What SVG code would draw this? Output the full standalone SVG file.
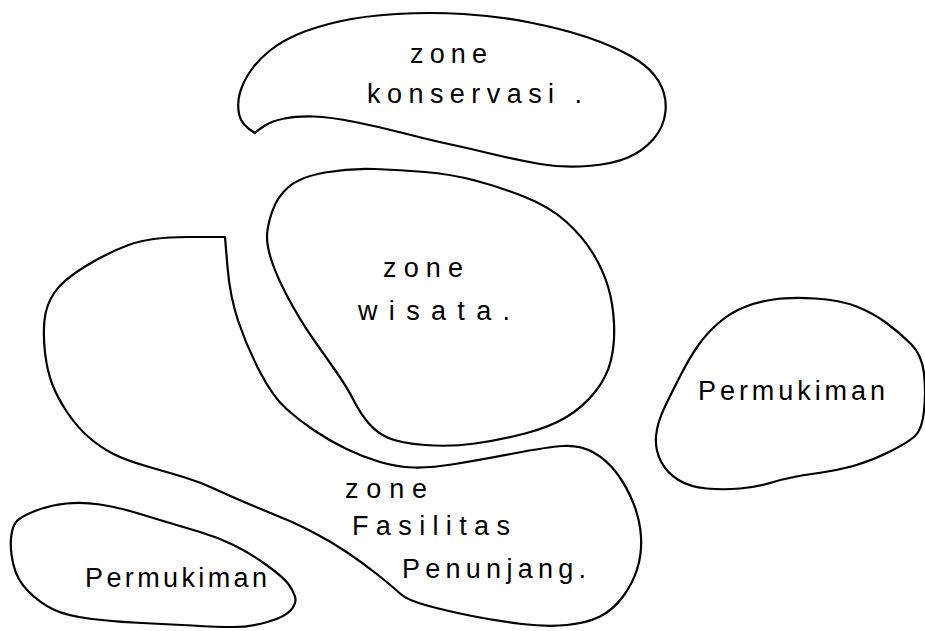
<svg xmlns="http://www.w3.org/2000/svg" width="925" height="631" viewBox="0 0 925 631">
<style>
.zone{fill:none;stroke:#000;stroke-width:2.2;stroke-linejoin:round;stroke-linecap:round}
.lbl{font-family:"Liberation Sans","DejaVu Sans",sans-serif;font-size:27px;fill:#000}
</style>
<rect width="925" height="631" fill="#fff"/>
<g id="connectors"/>
<g id="zone-konservasi">
<path class="zone" d="M255,133 Q241,125 239,114 Q237,103 240,92.5 Q243,82 250.5,71 Q258,60 270,50.5 Q282,41 298.5,34 Q315,27 339,21.5 Q363,16 396.5,14 Q430,12 463.5,14 Q497,16 530,22.5 Q563,29 588,37.5 Q613,46 631.5,56.5 Q650,67 658.5,81 Q667,95 665.5,111 Q664,127 653.5,139 Q643,151 628,157.5 Q613,164 588,166 Q563,168 540,164 Q517,160 490,153.5 Q463,147 446.5,143.5 Q430,140 405,133.5 Q380,127 355,122 Q330,117 313.5,116.5 Q297,116 284.5,118.5 Q272,121 265,125.5 Q258,130 255,133 Z"/>
<text class="lbl" x="410" y="63" textLength="77" lengthAdjust="spacing">zone</text>
<text class="lbl" x="367" y="103" textLength="215" lengthAdjust="spacing">konservasi .</text>
</g>
<g id="zone-wisata">
<path class="zone" d="M267,237 Q267,227 272,212 Q277,197 288.5,187 Q300,177 325,172.5 Q350,168 375,169 Q400,170 425,172 Q450,174 475,180.5 Q500,187 525,197 Q550,207 566.5,222 Q583,237 593,253.5 Q603,270 608,286.5 Q613,303 614,323 Q615,343 611,360 Q607,377 595,392 Q583,407 566.5,417 Q550,427 525,433.5 Q500,440 475,443.5 Q450,447 425,445 Q400,443 388.5,438 Q377,433 368.5,423 Q360,413 353.5,400 Q347,387 335,370 Q323,353 311.5,336.5 Q300,320 288.5,298.5 Q277,277 272,262 Q267,247 267,237 Z"/>
<text class="lbl" x="383" y="277" textLength="80" lengthAdjust="spacing">zone</text>
<text class="lbl" x="358" y="320" textLength="152" lengthAdjust="spacing">wisata.</text>
</g>
<g id="zone-fasilitas-penunjang">
<path class="zone" d="M225,237 L187.5,237 Q150,237 128.5,245 Q107,253 85,266.5 Q63,280 54.5,292.5 Q46,305 44.5,320 Q43,335 45,352.5 Q47,370 52,383.5 Q57,397 67,412 Q77,427 88.5,437 Q100,447 112.5,453.5 Q125,460 147.5,466.5 Q170,473 185,477.5 Q200,482 216,489.5 Q232,497 256,507 Q280,517 288.5,520.5 Q297,524 313.5,532.5 Q330,541 346.5,552 Q363,563 378,575 Q393,587 400,593.5 Q407,600 427,605.5 Q447,611 472,616 Q497,621 522,624 Q547,627 567,625 Q587,623 600,616.5 Q613,610 623,596.5 Q633,583 637.5,568 Q642,553 641,536.5 Q640,520 633.5,503.5 Q627,487 617,473.5 Q607,460 593.5,452.5 Q580,445 563.5,446 Q547,447 513.5,453.5 Q480,460 455,464 Q430,468 413.5,467.5 Q397,467 380,462 Q363,457 346.5,449 Q330,441 315,431 Q300,421 286.5,409 Q273,397 260,372 Q247,347 238.5,322 Q230,297 227.5,267 L225,237 Z"/>
<text class="lbl" x="345" y="498" textLength="82" lengthAdjust="spacing">zone</text>
<text class="lbl" x="352" y="535" textLength="158" lengthAdjust="spacing">Fasilitas</text>
<text class="lbl" x="402" y="578" textLength="184" lengthAdjust="spacing">Penunjang.</text>
</g>
<g id="permukiman-kanan">
<path class="zone" d="M773.5,299.5 Q790,297 815,298.5 Q840,300 856.5,306.5 Q873,313 886.5,323 Q900,333 911,344 Q922,355 924,373.5 Q926,392 924,411 Q922,430 914.5,436.5 Q907,443 890,451.5 Q873,460 856.5,465 Q840,470 815,473.5 Q790,477 773.5,482 Q757,487 740,488.5 Q723,490 706.5,488.5 Q690,487 678.5,480 Q667,473 661,461.5 Q655,450 656,436.5 Q657,423 665,406.5 Q673,390 681.5,373.5 Q690,357 698.5,345 Q707,333 718.5,323 Q730,313 743.5,307.5 Q757,302 773.5,299.5 Z"/>
<text class="lbl" x="698" y="400" textLength="187" lengthAdjust="spacing">Permukiman</text>
</g>
<g id="permukiman-kiri">
<path class="zone" d="M16,522 Q20,517 35,511 Q50,505 66.5,503.5 Q83,502 100,504.5 Q117,507 133.5,512 Q150,517 166.5,522 Q183,527 200,532 Q217,537 233.5,545 Q250,553 266.5,565 Q283,577 288,583.5 Q293,590 295,596.5 Q297,603 291,610 Q285,617 267.5,622 Q250,627 233.5,627 Q217,627 192,625.5 Q167,624 142,623 Q117,622 92,619 Q67,616 53.5,609.5 Q40,603 28.5,591.5 Q17,580 13.5,565 Q10,550 11,538.5 Q12,527 16,522 Z"/>
<text class="lbl" x="85" y="587" textLength="182" lengthAdjust="spacing">Permukiman</text>
</g>
</svg>
